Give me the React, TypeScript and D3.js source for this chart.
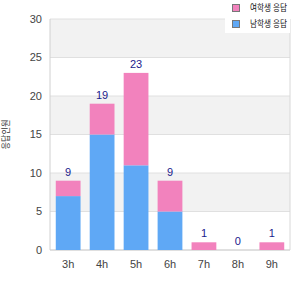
import * as d3 from 'd3';

const hours = ['3h', '4h', '5h', '6h', '7h', '8h', '9h'];
const blueValues = [7, 15, 11, 5, 0, 0, 0];
const pinkValues = [2, 4, 12, 4, 1, 0, 1];
const yTicks = [0, 5, 10, 15, 20, 25, 30];
const seriesNames = ['여학생 응답', '남학생 응답'];
const yTitle = '응답인원';

const W = 300;
const H = 300;
const m = { top: 19, right: 10, bottom: 50, left: 50 };
const font = 'Arial, "Liberation Sans", "Noto Sans CJK KR", sans-serif';

export default function App() {
  const x = d3
    .scaleBand()
    .domain(hours)
    .range([m.left, W - m.right])
    .paddingInner(0.27)
    .paddingOuter(0.17);
  const y = d3.scaleLinear().domain([0, 30]).range([H - m.bottom, m.top]);

  const rows = hours.map((h, i) => ({ h, blue: blueValues[i], pink: pinkValues[i] }));
  const stacked = d3.stack<any>().keys(['blue', 'pink'])(rows);
  const colors: Record<string, string> = { blue: '#5fa8f5', pink: '#f282bd' };

  const bands = d3.range(0, 30, 5);

  return (
    <svg width={W} height={H} style={{ position: 'absolute', left: 0, top: 0 }} fontFamily={font}>
      <rect x={0} y={0} width={W} height={H} fill="#fff" />
      {/* alternating bands */}
      {bands.map((b, i) => (
        <rect
          key={b}
          x={m.left}
          y={y(b + 5)}
          width={W - m.right - m.left}
          height={y(b) - y(b + 5)}
          fill={i % 2 === 1 ? '#f2f2f2' : '#fff'}
        />
      ))}
      {yTicks.map(t => (
        <g key={t}>
          <line x1={m.left} x2={W - m.right} y1={y(t)} y2={y(t)} stroke="#e0e0e0" />
          <text x={42} y={y(t)} dy="0.35em" textAnchor="end" fontSize={11} fill="#444">
            {t}
          </text>
        </g>
      ))}
      <line x1={m.left} x2={m.left} y1={y(30)} y2={y(0)} stroke="#d0d0d0" />
      <line x1={W - m.right} x2={W - m.right} y1={y(30)} y2={y(0)} stroke="#d8d8d8" />
      <line x1={m.left} x2={W - m.right} y1={y(0)} y2={y(0)} stroke="#d0d0d0" />

      {stacked.map(s =>
        s.map((d, i) => (
          <rect
            key={s.key + i}
            x={x(hours[i])}
            y={y(d[1])}
            width={x.bandwidth()}
            height={y(d[0]) - y(d[1])}
            fill={colors[s.key]}
          />
        ))
      )}

      {rows.map(r => (
        <text
          key={r.h}
          x={(x(r.h) as number) + x.bandwidth() / 2}
          y={y(r.blue + r.pink) - 5}
          textAnchor="middle"
          fontSize={11}
          fill="#1a1a8c"
        >
          {r.blue + r.pink}
        </text>
      ))}

      {hours.map(h => (
        <text
          key={h}
          x={(x(h) as number) + x.bandwidth() / 2}
          y={268}
          textAnchor="middle"
          fontSize={11}
          fill="#444"
        >
          {h}
        </text>
      ))}

      <text
        transform={`translate(9,${(y(0) + y(30)) / 2}) rotate(-90)`}
        textAnchor="middle"
        fontSize={9}
        fill="#333"
        textLength={30}
        lengthAdjust="spacingAndGlyphs"
      >
        {yTitle}
      </text>

      {/* legend */}
      <rect x={225} y={0} width={65} height={33} fill="#fff" />
      {seriesNames.map((n, i) => (
        <g key={n} transform={`translate(232,${4 + i * 16})`}>
          <rect x={0.5} y={0.5} width={7} height={7} fill={i === 0 ? colors.pink : colors.blue} stroke="#777" />
          <text
            x={18}
            y={4}
            dy="0.35em"
            fontSize={9}
            fill="#111"
            textLength={37}
            lengthAdjust="spacingAndGlyphs"
          >
            {n}
          </text>
        </g>
      ))}
    </svg>
  );
}
